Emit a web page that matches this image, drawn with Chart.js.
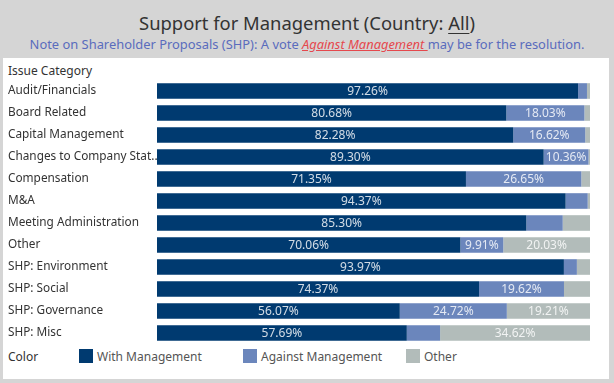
<!DOCTYPE html>
<html><head><meta charset="utf-8">
<script src="https://cdn.jsdelivr.net/npm/chart.js@4"></script>
<style>
html,body{margin:0;padding:0;}
body{width:614px;height:383px;background:#d5d5d5;position:relative;overflow:hidden;font-family:"Noto Sans",sans-serif;}
#title{position:absolute;left:0;width:614px;top:10px;text-align:center;font-size:18.4px;color:#333;}
#title u{text-decoration-thickness:1px;text-underline-offset:3px;}
#sub{position:absolute;left:0;width:614px;top:35px;text-align:center;font-size:12.9px;color:#5a6cbd;}
#sub i{color:#e5484d;text-decoration:underline;}
#panel{position:absolute;left:3px;top:58px;width:606px;height:321px;background:#fff;}
#hdr{position:absolute;left:8px;top:62px;font-size:12px;color:#333;}
#wrap{position:absolute;left:0;top:80px;width:614px;height:264px;}
#legend{position:absolute;left:0;top:348px;width:614px;height:16px;font-size:12px;color:#555;}
#legend .lab{position:absolute;left:8px;top:0;color:#333;}
#legend .sw{position:absolute;top:1px;width:14px;height:14px;}
#legend .tx{position:absolute;top:0;}
</style></head><body>
<div id="title">Support for Management (Country: <u>All</u>)</div>
<div id="sub">Note on Shareholder Proposals (SHP): A vote <i>Against&nbsp;Management&nbsp;</i>may be for the resolution.</div>
<div id="panel"></div>
<div id="hdr">Issue Category</div>
<div id="wrap"><canvas id="c"></canvas></div>
<div id="legend"><span class="lab">Color</span></div>
<script>
const categories = ["Audit/Financials","Board Related","Capital Management","Changes to Company Stat..","Compensation","M&A","Meeting Administration","Other","SHP: Environment","SHP: Social","SHP: Governance","SHP: Misc"];
const seriesNames = ["With Management","Against Management","Other"];
const withManagement = [97.26,80.68,82.28,89.30,71.35,94.37,85.30,70.06,93.97,74.37,56.07,57.69];
const againstManagement = [2.04,18.03,16.62,10.36,26.65,5.10,8.40,9.91,3.00,19.62,24.72,7.69];
const otherVotes = [0.70,1.29,1.10,0.34,2.00,0.53,6.30,20.03,3.03,6.01,19.21,34.62];
const colors = ["#003a70","#6b86bc","#b2bcba"];

const legendX = [79,243,406];
const lg = document.getElementById('legend');
seriesNames.forEach((n,i)=>{
  const s=document.createElement('span');s.className='sw';s.style.left=legendX[i]+'px';s.style.background=colors[i];lg.appendChild(s);
  const t=document.createElement('span');t.className='tx';t.style.left=(legendX[i]+18)+'px';t.textContent=n;lg.appendChild(t);
});

const labelPlugin = {
  id:'segLabels',
  afterDatasetsDraw(chart){
    const ctx=chart.ctx;
    ctx.save();
    ctx.font='12px "Noto Sans"';
    ctx.textAlign='center';ctx.textBaseline='middle';
    ctx.fillStyle='rgba(255,255,255,0.82)';
    chart.data.datasets.forEach((ds,di)=>{
      const meta=chart.getDatasetMeta(di);
      meta.data.forEach((el,i)=>{
        const v=ds.data[i];
        const txt=v.toFixed(2)+'%';
        const w=Math.abs(el.x-el.base);
        if(ctx.measureText(txt).width+4<w){
          ctx.fillText(txt,(el.x+el.base)/2,el.y+0.5);
        }
      });
    });
    ctx.restore();
  }
};

new Chart(document.getElementById('c'),{
  type:'bar',
  data:{labels:categories,datasets:[
    {label:seriesNames[0],data:withManagement,backgroundColor:colors[0]},
    {label:seriesNames[1],data:againstManagement,backgroundColor:colors[1]},
    {label:seriesNames[2],data:otherVotes,backgroundColor:colors[2]}
  ]},
  options:{
    indexAxis:'y',responsive:true,maintainAspectRatio:false,animation:false,
    layout:{padding:{left:8,right:24,top:0,bottom:0}},
    datasets:{bar:{categoryPercentage:1,barPercentage:0.71,borderWidth:0}},
    plugins:{legend:{display:false},tooltip:{enabled:false}},
    scales:{
      x:{stacked:true,min:0,max:100,display:false},
      y:{stacked:true,grid:{display:false},border:{display:false},
        ticks:{crossAlign:'far',color:'#333',font:{family:'Noto Sans',size:11.8},padding:0,autoSkip:false},
        afterFit(s){s.width=149;s.paddingTop=0;s.paddingBottom=0;}}
    }
  },
  plugins:[labelPlugin]
});
</script>
</body></html>
